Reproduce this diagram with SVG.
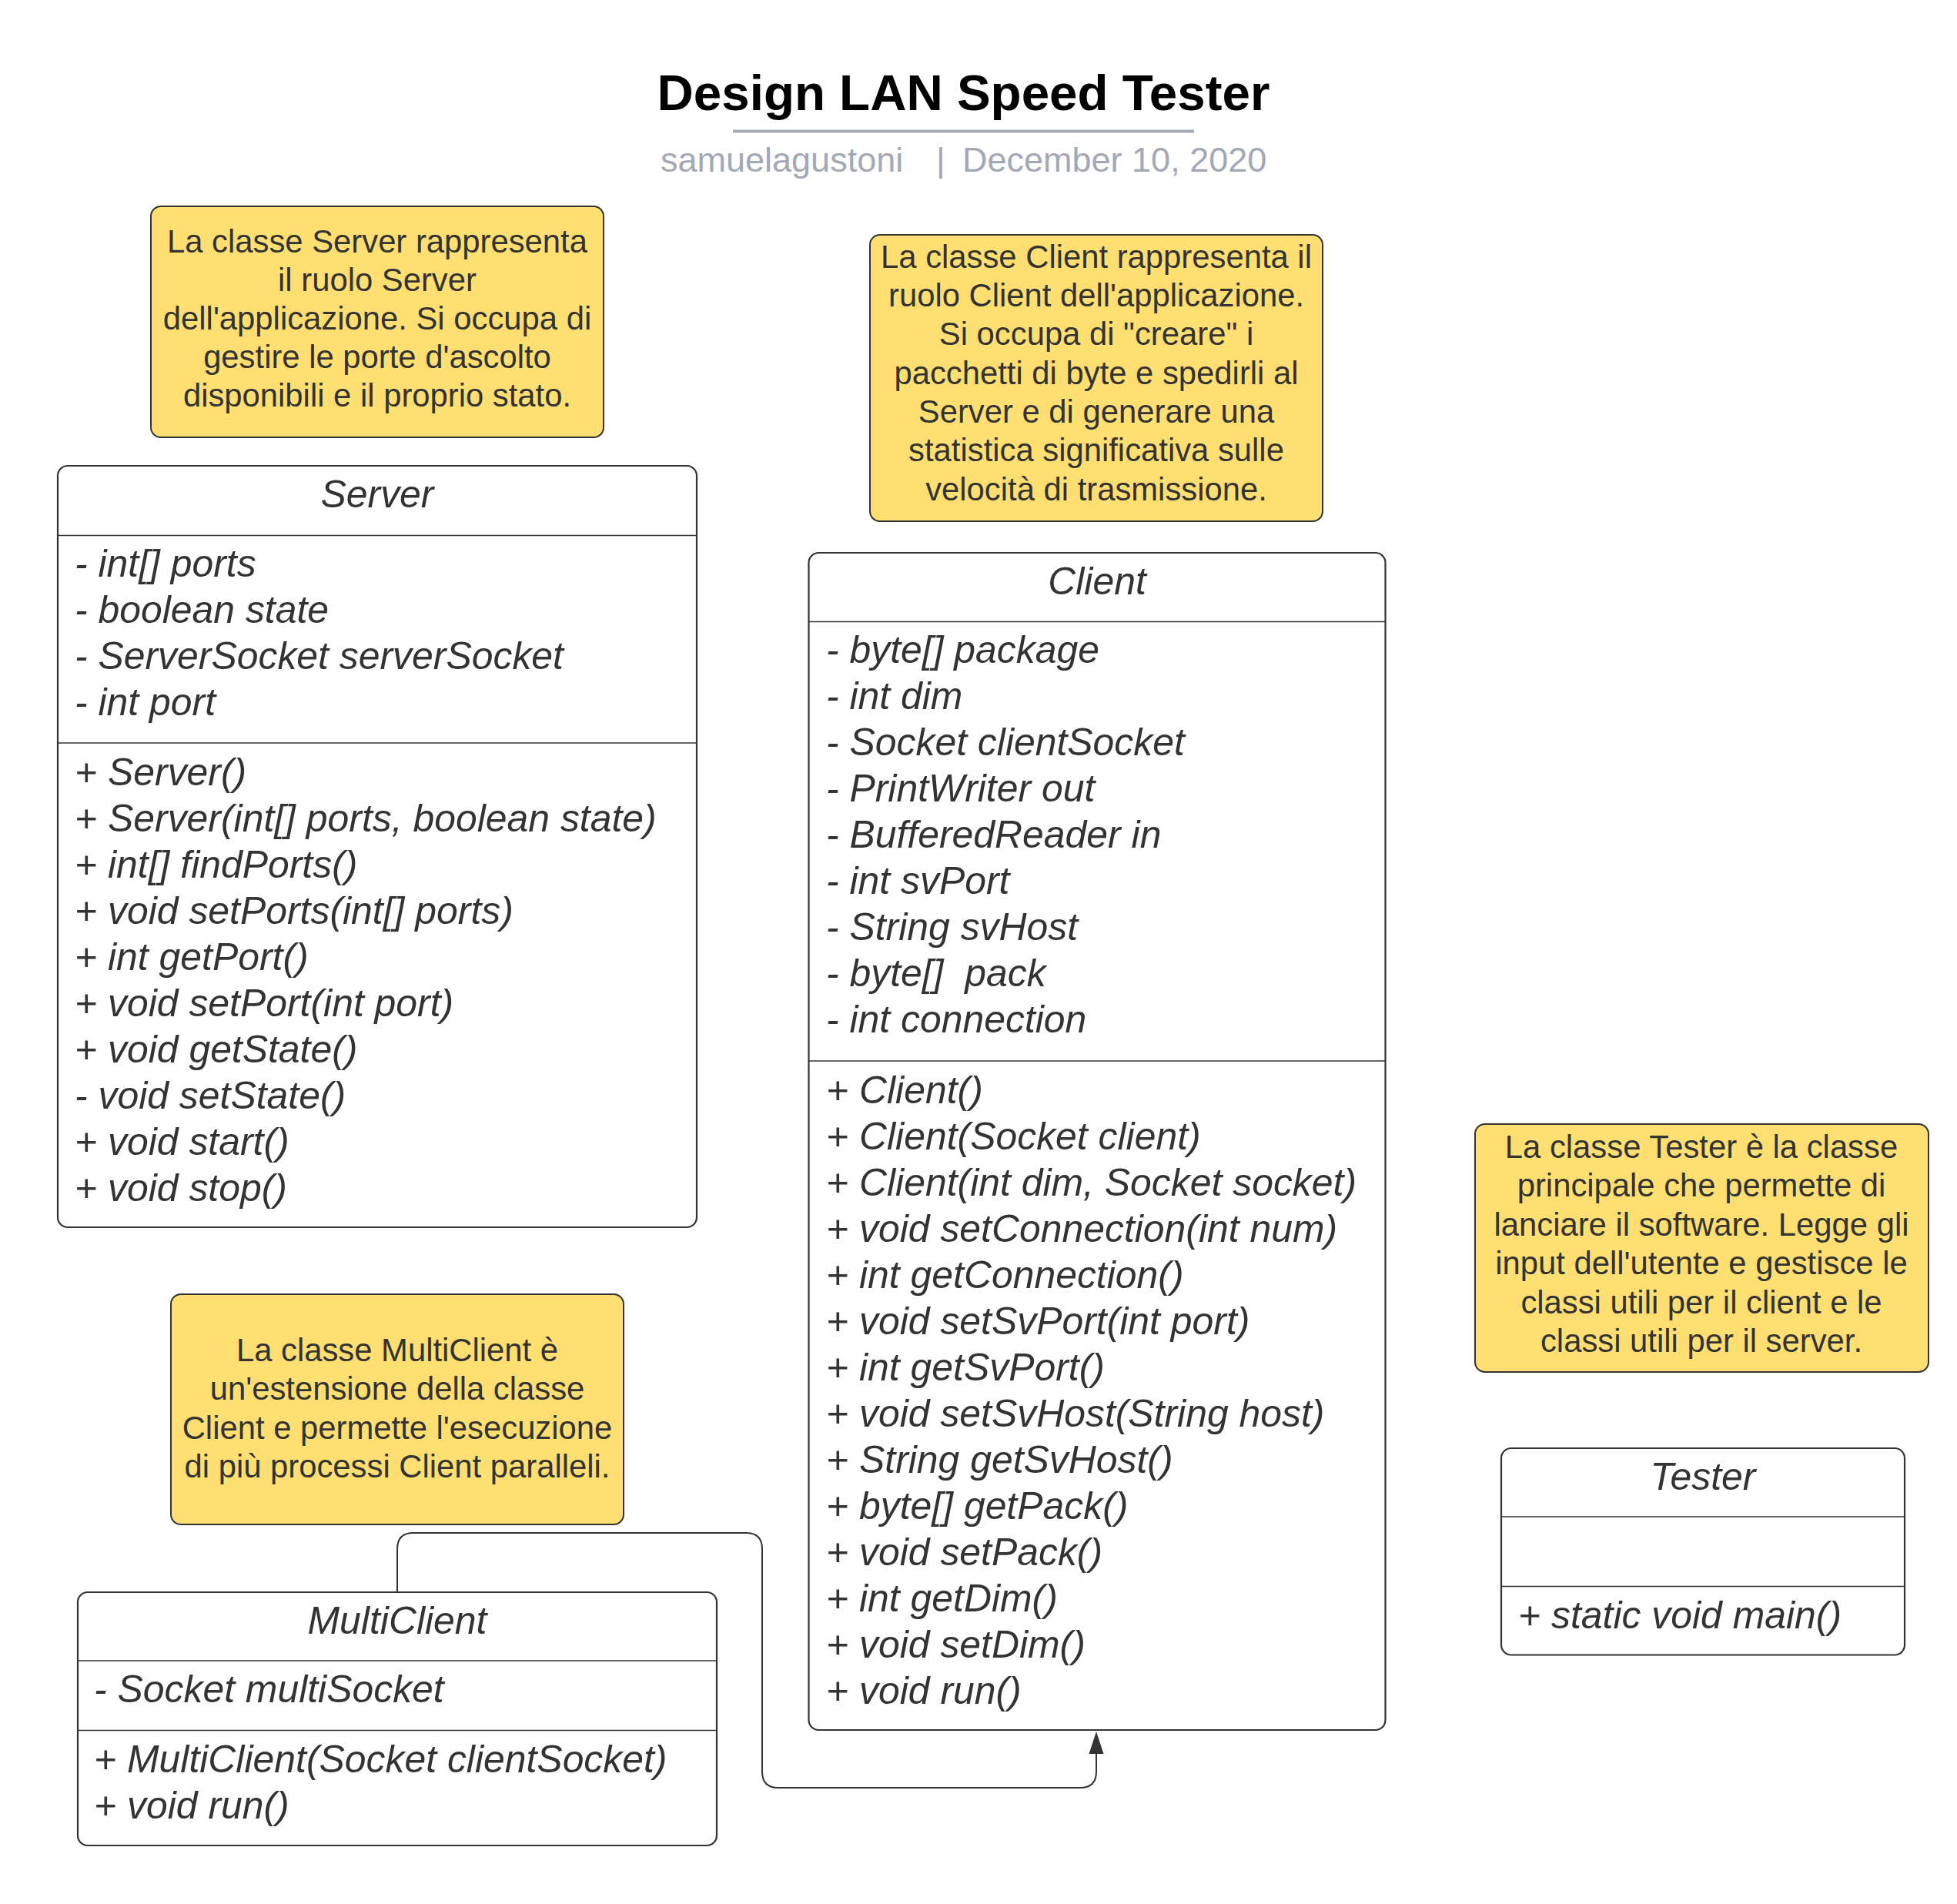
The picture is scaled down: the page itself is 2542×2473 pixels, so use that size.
<svg xmlns="http://www.w3.org/2000/svg" width="2542" height="2473" viewBox="0 0 2542 2473">
<style>
.bg{fill:#ffffff}
.note{fill:#ffdf71;stroke:#333333;stroke-width:2}
.box{fill:#ffffff;stroke:#333333;stroke-width:2.2}
.div{stroke:#333333;stroke-width:1.6}
.nt{font-family:"Liberation Sans",Arial,sans-serif;font-size:41.8px;fill:#333333;text-anchor:middle}
.mb{font-family:"Liberation Sans",Arial,sans-serif;font-size:49.9px;font-style:italic;fill:#333333;white-space:pre}
.hd{font-family:"Liberation Sans",Arial,sans-serif;font-size:49.9px;font-style:italic;fill:#333333;text-anchor:middle}
.title{font-family:"Liberation Sans",Arial,sans-serif;font-size:65.5px;font-weight:bold;fill:#000000;text-anchor:middle}
.sub{font-family:"Liberation Sans",Arial,sans-serif;font-size:45px;fill:#a3a8b4}
.conn{fill:none;stroke:#333333;stroke-width:2}
</style>
<rect class="bg" x="0" y="0" width="2542" height="2473"/>

<g id="header">
<text class="title" x="1251.5" y="143">Design LAN Speed Tester</text>
<line x1="952" y1="170.5" x2="1551" y2="170.5" stroke="#a7abb6" stroke-width="4"/>
<text class="sub" x="858" y="223">samuelagustoni</text>
<text class="sub" x="1216" y="223">|</text>
<text class="sub" x="1250" y="223">December 10, 2020</text>
</g>

<g id="connectors">
<path class="conn" d="M516,2068 L516,2012 Q516,1991 537,1991 L969,1991 Q990,1991 990,2012 L990,2301 Q990,2322 1011,2322 L1403,2322 Q1424,2322 1424,2301 L1424,2278"/>
<path d="M1424,2249 L1433.5,2278 L1414.5,2278 Z" fill="#333333"/>
</g>

<g id="note-server">
<rect class="note" x="196" y="268" width="588" height="300" rx="13"/>
<text class="nt" x="490" y="328">La classe Server rappresenta</text>
<text class="nt" x="490" y="378">il ruolo Server</text>
<text class="nt" x="490" y="428">dell'applicazione. Si occupa di</text>
<text class="nt" x="490" y="478">gestire le porte d'ascolto</text>
<text class="nt" x="490" y="528">disponibili e il proprio stato.</text>
</g>

<g id="note-client">
<rect class="note" x="1130" y="305" width="588" height="372" rx="13"/>
<text class="nt" x="1424" y="348">La classe Client rappresenta il</text>
<text class="nt" x="1424" y="398">ruolo Client dell'applicazione.</text>
<text class="nt" x="1424" y="448">Si occupa di "creare" i</text>
<text class="nt" x="1424" y="499">pacchetti di byte e spedirli al</text>
<text class="nt" x="1424" y="549">Server e di generare una</text>
<text class="nt" x="1424" y="599">statistica significativa sulle</text>
<text class="nt" x="1424" y="650">velocità di trasmissione.</text>
</g>

<g id="note-tester">
<rect class="note" x="1916" y="1460" width="589" height="322" rx="13"/>
<text class="nt" x="2210" y="1504">La classe Tester è la classe</text>
<text class="nt" x="2210" y="1554">principale che permette di</text>
<text class="nt" x="2210" y="1605">lanciare il software. Legge gli</text>
<text class="nt" x="2210" y="1655">input dell'utente e gestisce le</text>
<text class="nt" x="2210" y="1706">classi utili per il client e le</text>
<text class="nt" x="2210" y="1756">classi utili per il server.</text>
</g>

<g id="note-multiclient">
<rect class="note" x="222" y="1681" width="588" height="299" rx="13"/>
<text class="nt" x="516" y="1768">La classe MultiClient è</text>
<text class="nt" x="516" y="1818">un'estensione della classe</text>
<text class="nt" x="516" y="1869">Client e permette l'esecuzione</text>
<text class="nt" x="516" y="1919">di più processi Client paralleli.</text>
</g>

<g id="class-server">
<rect class="box" x="75" y="605" width="830" height="989" rx="13"/>
<line class="div" x1="75" y1="695.5" x2="905" y2="695.5"/>
<line class="div" x1="75" y1="965" x2="905" y2="965"/>
<text class="hd" x="490" y="659">Server</text>
<text class="mb" x="97" y="749">- int[] ports</text>
<text class="mb" x="97" y="809">- boolean state</text>
<text class="mb" x="97" y="869">- ServerSocket serverSocket</text>
<text class="mb" x="97" y="929">- int port</text>
<text class="mb" x="97" y="1020">+ Server()</text>
<text class="mb" x="97" y="1080">+ Server(int[] ports, boolean state)</text>
<text class="mb" x="97" y="1140">+ int[] findPorts()</text>
<text class="mb" x="97" y="1200">+ void setPorts(int[] ports)</text>
<text class="mb" x="97" y="1260">+ int getPort()</text>
<text class="mb" x="97" y="1320">+ void setPort(int port)</text>
<text class="mb" x="97" y="1380">+ void getState()</text>
<text class="mb" x="97" y="1440">- void setState()</text>
<text class="mb" x="97" y="1500">+ void start()</text>
<text class="mb" x="97" y="1560">+ void stop()</text>
</g>

<g id="class-client">
<rect class="box" x="1050.5" y="718" width="749" height="1529" rx="13"/>
<line class="div" x1="1050.5" y1="807.5" x2="1799.5" y2="807.5"/>
<line class="div" x1="1050.5" y1="1378" x2="1799.5" y2="1378"/>
<text class="hd" x="1425" y="772">Client</text>
<text class="mb" x="1073" y="861">- byte[] package</text>
<text class="mb" x="1073" y="921">- int dim</text>
<text class="mb" x="1073" y="981">- Socket clientSocket</text>
<text class="mb" x="1073" y="1041">- PrintWriter out</text>
<text class="mb" x="1073" y="1101">- BufferedReader in</text>
<text class="mb" x="1073" y="1161">- int svPort</text>
<text class="mb" x="1073" y="1221">- String svHost</text>
<text class="mb" x="1073" y="1281" xml:space="preserve">- byte[]  pack</text>
<text class="mb" x="1073" y="1341">- int connection</text>
<text class="mb" x="1073" y="1433">+ Client()</text>
<text class="mb" x="1073" y="1493">+ Client(Socket client)</text>
<text class="mb" x="1073" y="1553">+ Client(int dim, Socket socket)</text>
<text class="mb" x="1073" y="1613">+ void setConnection(int num)</text>
<text class="mb" x="1073" y="1673">+ int getConnection()</text>
<text class="mb" x="1073" y="1733">+ void setSvPort(int port)</text>
<text class="mb" x="1073" y="1793">+ int getSvPort()</text>
<text class="mb" x="1073" y="1853">+ void setSvHost(String host)</text>
<text class="mb" x="1073" y="1913">+ String getSvHost()</text>
<text class="mb" x="1073" y="1973">+ byte[] getPack()</text>
<text class="mb" x="1073" y="2033">+ void setPack()</text>
<text class="mb" x="1073" y="2093">+ int getDim()</text>
<text class="mb" x="1073" y="2153">+ void setDim()</text>
<text class="mb" x="1073" y="2213">+ void run()</text>
</g>

<g id="class-tester">
<rect class="box" x="1950" y="1881" width="524" height="268.5" rx="13"/>
<line class="div" x1="1950" y1="1970" x2="2474" y2="1970"/>
<line class="div" x1="1950" y1="2060.5" x2="2474" y2="2060.5"/>
<text class="hd" x="2212" y="1935">Tester</text>
<text class="mb" x="1972" y="2115">+ static void main()</text>
</g>

<g id="class-multiclient">
<rect class="box" x="101" y="2068" width="830" height="329" rx="13"/>
<line class="div" x1="101" y1="2157" x2="931" y2="2157"/>
<line class="div" x1="101" y1="2247.5" x2="931" y2="2247.5"/>
<text class="hd" x="516" y="2122">MultiClient</text>
<text class="mb" x="122" y="2211">- Socket multiSocket</text>
<text class="mb" x="122" y="2302">+ MultiClient(Socket clientSocket)</text>
<text class="mb" x="122" y="2362">+ void run()</text>
</g>
</svg>
